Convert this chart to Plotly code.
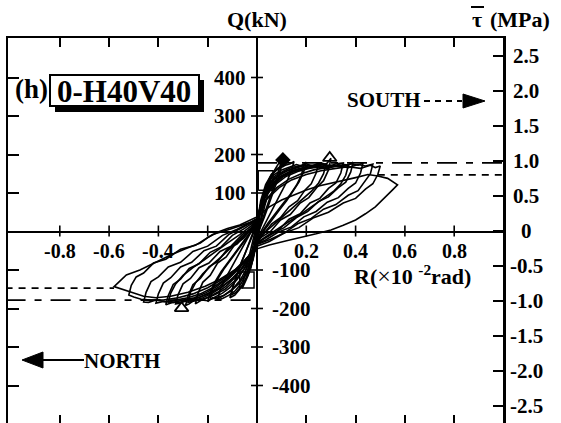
import plotly.graph_objects as go

# ---------------- data ----------------
r_ticks = [-0.8, -0.6, -0.4, -0.2, 0.2, 0.4, 0.6, 0.8]
r_label_vals = [-0.8, -0.6, -0.4, 0.2, 0.4, 0.6, 0.8]
r_label_text = ["-0.8", "-0.6", "-0.4", "0.2", "0.4", "0.6", "0.8"]
q_ticks = [-400, -300, -200, -100, 100, 200, 300, 400]
q_label_text = ["-400", "-300", "-200", "-100", "100", "200", "300", "400"]
tau_ticks = [-2.5, -2.0, -1.5, -1.0, -0.5, 0.0, 0.5, 1.0, 1.5, 2.0, 2.5]
tau_label_text = ["-2.5", "-2.0", "-1.5", "-1.0", "-0.5", "0", "0.5", "1.0", "1.5", "2.0", "2.5"]

c01_r = [0, 0.008, 0.015, 0.02, 0.016, 0.008, 0, -0.008, -0.015, -0.02, -0.016, -0.008, 0]
c01_q = [8, 45, 70, 80, 55, 20, -8, -42, -68, -80, -55, -20, 8]
c02_r = [0, 0.01, 0.02, 0.03, 0.04, 0.035, 0.025, 0.012, 0, -0.01, -0.02, -0.03, -0.04, -0.035, -0.025, -0.012, 0]
c02_q = [12, 48, 80, 102, 120, 95, 62, 22, -12, -48, -80, -100, -118, -92, -60, -20, 12]
c03_r = [0, 0.012, 0.025, 0.04, 0.052, 0.06, 0.052, 0.04, 0.025, 0.01, 0, -0.012, -0.025, -0.04, -0.052, -0.06,
         -0.052, -0.04, -0.025, -0.01, 0]
c03_q = [15, 60, 95, 122, 140, 150, 122, 88, 50, 10, -15, -58, -95, -120, -138, -148, -118, -84, -46, -6, 15]
c04_r = [0, 0.015, 0.03, 0.05, 0.07, 0.085, 0.1, 0.09, 0.075, 0.055, 0.035, 0.015, 0, -0.015, -0.03, -0.05, -0.07,
         -0.09, -0.11, -0.1, -0.085, -0.065, -0.04, -0.018, 0]
c04_q = [18, 65, 100, 132, 158, 174, 185, 160, 128, 92, 56, 18, -18, -62, -98, -130, -150, -165, -172, -148, -118,
         -82, -44, -8, 18]
c04b_r = [0, 0.015, 0.035, 0.06, 0.08, 0.1, 0.09, 0.07, 0.05, 0.03, 0.01, 0, -0.015, -0.035, -0.06, -0.085, -0.105,
          -0.095, -0.075, -0.05, -0.025, 0]
c04b_q = [25, 70, 112, 145, 162, 172, 146, 108, 72, 38, 5, -25, -70, -110, -140, -158, -165, -138, -100, -60, -20, 25]
c05_r = [0, 0.015, 0.035, 0.06, 0.09, 0.115, 0.135, 0.15, 0.14, 0.12, 0.095, 0.07, 0.045, 0.02, 0, -0.02, -0.04,
         -0.065, -0.09, -0.115, -0.14, -0.16, -0.15, -0.13, -0.105, -0.08, -0.05, -0.025, 0]
c05_q = [20, 80, 122, 150, 164, 172, 176, 182, 158, 128, 98, 68, 38, 5, -20, -70, -106, -136, -155, -166, -174, -178,
         -152, -124, -94, -64, -30, -2, 20]
c06_r = [0, 0.02, 0.04, 0.07, 0.1, 0.13, 0.16, 0.18, 0.2, 0.19, 0.17, 0.145, 0.12, 0.09, 0.06, 0.03, 0, -0.02,
         -0.045, -0.07, -0.1, -0.13, -0.16, -0.18, -0.2, -0.19, -0.17, -0.145, -0.115, -0.085, -0.055, -0.025, 0]
c06_q = [22, 82, 122, 148, 160, 168, 174, 170, 180, 156, 128, 104, 80, 55, 30, 2, -22, -64, -100, -128, -150, -164,
         -176, -172, -182, -158, -130, -104, -78, -52, -25, 0, 22]
c06b_r = [0, 0.02, 0.045, 0.075, 0.105, 0.135, 0.165, 0.19, 0.18, 0.16, 0.135, 0.105, 0.075, 0.045, 0.015, 0,
          -0.02, -0.045, -0.075, -0.105, -0.135, -0.165, -0.19, -0.18, -0.16, -0.135, -0.105, -0.075, -0.045,
          -0.015, 0]
c06b_q = [28, 84, 118, 140, 154, 162, 168, 172, 146, 120, 96, 72, 48, 22, -6, -28, -74, -110, -136, -154, -166,
          -172, -176, -150, -124, -98, -72, -46, -20, 6, 28]
c07_r = [0, 0.02, 0.045, 0.075, 0.11, 0.14, 0.17, 0.2, 0.225, 0.25, 0.24, 0.22, 0.195, 0.165, 0.13, 0.095, 0.06,
         0.03, 0, -0.025, -0.05, -0.08, -0.11, -0.14, -0.17, -0.2, -0.225, -0.25, -0.24, -0.22, -0.19, -0.16,
         -0.125, -0.09, -0.055, -0.025, 0]
c07_q = [24, 80, 120, 145, 158, 166, 170, 176, 170, 178, 152, 124, 108, 80, 64, 36, 20, -4, -24, -62, -96, -124,
         -146, -160, -170, -180, -178, -188, -162, -132, -114, -82, -66, -34, -18, 6, 24]
c08_r = [0, 0.02, 0.05, 0.085, 0.125, 0.16, 0.195, 0.23, 0.26, 0.28, 0.3, 0.29, 0.27, 0.245, 0.21, 0.175, 0.135,
         0.095, 0.055, 0.02, 0, -0.025, -0.055, -0.09, -0.125, -0.16, -0.195, -0.225, -0.255, -0.275, -0.29, -0.28,
         -0.26, -0.23, -0.195, -0.16, -0.12, -0.08, -0.04, 0]
c08_q = [26, 80, 120, 144, 158, 166, 172, 168, 178, 174, 190, 160, 132, 116, 88, 74, 44, 30, 0, -14, -26, -60, -92,
         -120, -142, -158, -170, -178, -178, -188, -192, -168, -138, -122, -92, -78, -46, -32, -2, 26]
c08b_r = [0, 0.025, 0.055, 0.09, 0.13, 0.17, 0.21, 0.245, 0.28, 0.27, 0.25, 0.22, 0.185, 0.145, 0.105, 0.065, 0.025,
          0, -0.025, -0.055, -0.09, -0.13, -0.17, -0.21, -0.245, -0.28, -0.27, -0.25, -0.22, -0.185, -0.145, -0.105,
          -0.065, -0.025, 0]
c08b_q = [30, 84, 118, 140, 154, 162, 166, 172, 176, 150, 126, 104, 84, 62, 40, 18, -6, -30, -66, -100, -128, -150,
          -164, -174, -180, -184, -158, -134, -110, -88, -66, -42, -18, 8, 30]
c09_r = [0, 0.025, 0.055, 0.095, 0.14, 0.18, 0.22, 0.26, 0.29, 0.32, 0.35, 0.34, 0.32, 0.29, 0.255, 0.215, 0.175,
         0.13, 0.085, 0.04, 0, -0.03, -0.06, -0.1, -0.14, -0.18, -0.22, -0.26, -0.29, -0.315, -0.33, -0.32, -0.3,
         -0.27, -0.235, -0.195, -0.15, -0.105, -0.06, -0.02, 0]
c09_q = [28, 82, 120, 144, 158, 166, 172, 174, 168, 176, 178, 152, 126, 112, 86, 74, 46, 32, 2, -14, -28, -62, -94,
         -122, -144, -160, -172, -180, -180, -186, -188, -164, -136, -122, -94, -82, -52, -38, -8, 10, 28]
c10_r = [0, 0.025, 0.06, 0.1, 0.15, 0.19, 0.23, 0.27, 0.31, 0.34, 0.37, 0.39, 0.38, 0.36, 0.33, 0.29, 0.25, 0.205,
         0.16, 0.11, 0.06, 0.02, 0, -0.03, -0.07, -0.11, -0.15, -0.19, -0.23, -0.27, -0.31, -0.34, -0.37, -0.36,
         -0.34, -0.31, -0.275, -0.235, -0.19, -0.145, -0.1, -0.055, -0.015, 0]
c10_q = [30, 82, 120, 142, 156, 164, 168, 174, 170, 176, 172, 180, 154, 128, 114, 90, 78, 52, 36, 10, -6, -22, -30,
         -62, -94, -120, -142, -158, -170, -178, -184, -184, -190, -166, -138, -124, -96, -84, -54, -40, -10, 6,
         22, 30]
c10b_r = [0, 0.03, 0.065, 0.105, 0.15, 0.195, 0.24, 0.285, 0.33, 0.37, 0.36, 0.34, 0.31, 0.27, 0.225, 0.18, 0.13,
          0.08, 0.03, 0, -0.03, -0.065, -0.105, -0.15, -0.195, -0.24, -0.285, -0.33, -0.36, -0.35, -0.33, -0.3,
          -0.26, -0.215, -0.17, -0.12, -0.07, -0.025, 0]
c10b_q = [32, 86, 120, 142, 156, 164, 168, 164, 172, 170, 146, 124, 104, 86, 66, 46, 26, 4, -16, -32, -66, -98,
          -126, -146, -162, -172, -178, -178, -184, -160, -136, -114, -94, -74, -52, -30, -8, 14, 32]
c11_r = [0, 0.03, 0.07, 0.115, 0.165, 0.21, 0.255, 0.3, 0.34, 0.38, 0.41, 0.43, 0.42, 0.4, 0.37, 0.33, 0.285, 0.24,
         0.19, 0.14, 0.085, 0.035, 0, -0.035, -0.075, -0.12, -0.165, -0.21, -0.255, -0.3, -0.34, -0.38, -0.41, -0.4,
         -0.38, -0.35, -0.31, -0.265, -0.215, -0.165, -0.115, -0.065, -0.02, 0]
c11_q = [32, 86, 120, 142, 156, 164, 168, 172, 168, 176, 172, 178, 152, 126, 112, 88, 76, 52, 38, 12, -2, -22, -32,
         -64, -96, -122, -144, -160, -172, -178, -184, -182, -186, -162, -134, -120, -92, -80, -50, -38, -8, 8,
         24, 32]
c12_r = [0, 0.035, 0.08, 0.13, 0.18, 0.23, 0.28, 0.33, 0.37, 0.41, 0.44, 0.47, 0.46, 0.44, 0.41, 0.37, 0.32, 0.27,
         0.22, 0.165, 0.11, 0.055, 0, -0.035, -0.08, -0.13, -0.18, -0.23, -0.28, -0.33, -0.37, -0.41, -0.44, -0.46,
         -0.45, -0.43, -0.4, -0.36, -0.31, -0.26, -0.2, -0.14, -0.08, -0.03, 0]
c12_q = [34, 82, 114, 136, 150, 160, 166, 170, 166, 174, 170, 175, 150, 132, 106, 94, 70, 58, 34, 20, -4, -20, -34,
         -66, -98, -124, -146, -162, -172, -178, -182, -178, -184, -183, -158, -130, -118, -92, -80, -52, -38, -10,
         6, 22, 34]
c13_r = [0, 0.04, 0.09, 0.14, 0.2, 0.26, 0.32, 0.37, 0.42, 0.46, 0.48, 0.5, 0.49, 0.47, 0.44, 0.4, 0.35, 0.29, 0.23,
         0.17, 0.11, 0.05, 0, -0.04, -0.09, -0.14, -0.2, -0.26, -0.32, -0.38, -0.43, -0.47, -0.5, -0.52, -0.51,
         -0.49, -0.46, -0.42, -0.37, -0.31, -0.25, -0.18, -0.11, -0.05, 0]
c13_q = [30, 84, 114, 134, 148, 158, 164, 168, 164, 172, 166, 170, 148, 124, 110, 86, 74, 50, 36, 10, -4, -26, -38,
         -68, -100, -124, -146, -162, -172, -178, -178, -176, -170, -165, -140, -118, -108, -82, -72, -46, -36, -8,
         6, 20, 30]
c14_r = [0, 0.05, 0.1, 0.15, 0.2, 0.25, 0.3, 0.35, 0.4, 0.45, 0.49, 0.53, 0.57, 0.55, 0.52, 0.48, 0.44, 0.4, 0.35,
         0.3, 0.24, 0.19, 0.12, 0.05, 0, -0.04, -0.09, -0.15, -0.21, -0.28, -0.35, -0.41, -0.46, -0.5, -0.54, -0.58,
         -0.55, -0.53, -0.475, -0.42, -0.35, -0.29, -0.23, -0.2, -0.16, -0.12, -0.07, 0]
c14_q = [38, 64, 82, 96, 108, 118, 126, 132, 140, 148, 144, 138, 121, 108, 90, 64, 46, 30, 16, 4, -6, -13, -24, -35,
         -45, -72, -100, -124, -142, -158, -168, -172, -168, -160, -152, -143, -125, -113, -100, -82, -61, -45, -30,
         -16, -2, 8, 17, 38]

# special points
diamond_r = [0.105]
diamond_q = [186]
triangle_r = [0.295, -0.306]
triangle_q = [191, -199]
# open square markers (R range, Q range)
box_pos_r = [0.005, 0.065]
box_pos_q = [107, 158]
box_neg_r = [-0.07, -0.012]
box_neg_q = [-147, -105]
# reference levels
dashdot_q = [178, -178]
dashdot_r0 = [0.0, -1.02]
dashdot_r1 = [1.02, 0.0]
dash_q = [147, -147]
dash_r0 = [0.49, -1.02]
dash_r1 = [1.02, -0.58]

# ---------------- geometry ----------------
W, H = 561, 423
L, R_EDGE, T, B = 8, 503, 38, 423
X_RANGE = [(L - 257) / 246.5, (R_EDGE - 257) / 246.5]
Y_RANGE = [-497.4, 502.6]
TAU_RANGE = [-2.736, 2.764]


def px(x):
    return (x - L) / (R_EDGE - L)


def py(y):
    return (B - y) / (B - T)


FONT = "Liberation Serif, Times New Roman, serif"

fig = go.Figure()

cycles = [(c01_r, c01_q), (c02_r, c02_q), (c03_r, c03_q), (c04_r, c04_q), (c04b_r, c04b_q), (c05_r, c05_q),
          (c06_r, c06_q), (c06b_r, c06b_q), (c07_r, c07_q), (c08_r, c08_q), (c08b_r, c08b_q), (c09_r, c09_q),
          (c10_r, c10_q), (c10b_r, c10b_q), (c11_r, c11_q), (c12_r, c12_q), (c13_r, c13_q), (c14_r, c14_q)]
for rr, qq in cycles:
    fig.add_trace(go.Scatter(x=rr, y=qq, mode="lines", line=dict(color="black", width=1.6),
                             hoverinfo="skip", showlegend=False))

# reference lines
for q, a, b in zip(dashdot_q, dashdot_r0, dashdot_r1):
    fig.add_trace(go.Scatter(x=[a, b], y=[q, q], mode="lines",
                             line=dict(color="black", width=1.7, dash="20px,9px,7px,9px"),
                             hoverinfo="skip", showlegend=False))
for q, a, b in zip(dash_q, dash_r0, dash_r1):
    fig.add_trace(go.Scatter(x=[a, b], y=[q, q], mode="lines",
                             line=dict(color="black", width=1.7, dash="7px,6px"),
                             hoverinfo="skip", showlegend=False))

# boxes
for br, bq in [(box_pos_r, box_pos_q), (box_neg_r, box_neg_q)]:
    fig.add_trace(go.Scatter(x=[br[0], br[1], br[1], br[0], br[0]], y=[bq[0], bq[0], bq[1], bq[1], bq[0]],
                             mode="lines", line=dict(color="black", width=1.5),
                             hoverinfo="skip", showlegend=False))

fig.add_trace(go.Scatter(x=diamond_r, y=diamond_q, mode="markers",
                         marker=dict(symbol="diamond", size=12, color="black"),
                         hoverinfo="skip", showlegend=False))
fig.add_trace(go.Scatter(x=triangle_r, y=triangle_q, mode="markers",
                         marker=dict(symbol="triangle-up-open", size=12, color="black", line=dict(width=1.8)),
                         hoverinfo="skip", showlegend=False))

# dummy trace for right (tau) axis
fig.add_trace(go.Scatter(x=[0], y=[0], xaxis="x2", yaxis="y2", mode="markers",
                         marker=dict(opacity=0), hoverinfo="skip", showlegend=False))

shapes = []
# ticks on the central axes
for q in q_ticks:
    shapes.append(dict(type="line", xref="x", yref="y", xsizemode="pixel", xanchor=0, x0=-6, x1=6,
                       y0=q, y1=q, line=dict(color="black", width=1.6)))
for r in r_ticks:
    shapes.append(dict(type="line", xref="x", yref="y", ysizemode="pixel", yanchor=0, y0=-5, y1=6,
                       x0=r, x1=r, line=dict(color="black", width=1.6)))

# label box with shadow
shapes.append(dict(type="rect", xref="paper", yref="paper", x0=px(55), x1=px(204), y0=py(112), y1=py(80),
                   fillcolor="black", line=dict(width=0)))
shapes.append(dict(type="rect", xref="paper", yref="paper", x0=px(50), x1=px(199), y0=py(106), y1=py(75),
                   fillcolor="white", line=dict(color="black", width=2)))

# overline of tau in the right axis title
shapes.append(dict(type="line", xref="paper", yref="paper", x0=px(471), x1=px(484), y0=py(7), y1=py(7),
                   line=dict(color="black", width=2)))

# SOUTH arrow
shapes.append(dict(type="line", xref="paper", yref="paper", x0=px(424), x1=px(462), y0=py(101), y1=py(101),
                   line=dict(color="black", width=2, dash="6px,5px")))
shapes.append(dict(type="path", xref="paper", yref="paper",
                   path=f"M {px(463)} {py(94)} L {px(485)} {py(101)} L {px(463)} {py(108)} Z",
                   fillcolor="black", line=dict(color="black", width=1)))
# NORTH arrow
shapes.append(dict(type="line", xref="paper", yref="paper", x0=px(42), x1=px(84), y0=py(360), y1=py(360),
                   line=dict(color="black", width=2)))
shapes.append(dict(type="path", xref="paper", yref="paper",
                   path=f"M {px(22)} {py(360)} L {px(43)} {py(352)} L {px(43)} {py(368)} Z",
                   fillcolor="black", line=dict(color="black", width=1)))

ann = []


def txt(s, x, y, size=21, xanchor="center", xref="paper", yref="paper", yanchor="middle"):
    ann.append(dict(text=f"<b>{s}</b>", x=x, y=y, xref=xref, yref=yref, xanchor=xanchor, yanchor=yanchor,
                    showarrow=False, font=dict(family=FONT, size=size, color="black")))


for v, s in zip(r_label_vals, r_label_text):
    txt(s, v, py(251), size=20, xref="x")
for v, s in zip(q_ticks, q_label_text):
    if v > 0:
        txt(s, px(248), v, xanchor="right", yref="y")
    else:
        txt(s, px(270), v, xanchor="left", yref="y")
for v, s in zip(tau_ticks, tau_label_text):
    txt(s, px(526), v, yref="y2")

txt("Q(kN)", px(257), py(19), size=22)
txt("τ", px(477), py(20), size=22)
txt("(MPa)", px(488), py(19), size=22, xanchor="left")
txt("R(<span style='font-size:24px;font-weight:normal'>×</span>10 <sup>-2</sup>rad)", px(352), py(275),
    size=22, xanchor="left")
txt("(h)", px(13), py(89), size=27, xanchor="left")
txt("0-H40V40", px(124), py(91), size=31)
txt("SOUTH", px(423), py(100), size=21, xanchor="right")
txt("NORTH", px(82), py(361), size=21, xanchor="left")

axis_common = dict(showgrid=False, fixedrange=True, tickcolor="black", tickwidth=1.6)
fig.update_layout(
    width=W, height=H,
    margin=dict(l=L, r=W - R_EDGE, t=T, b=H - B, autoexpand=False),
    paper_bgcolor="white", plot_bgcolor="white",
    showlegend=False,
    xaxis=dict(range=X_RANGE, zeroline=True, zerolinecolor="black", zerolinewidth=2, showline=False,
               ticks="inside", ticklen=8, tickvals=r_ticks, showticklabels=False, **axis_common),
    xaxis2=dict(range=X_RANGE, overlaying="x", side="top", zeroline=False, showline=True, linecolor="black",
                linewidth=2, ticks="inside", ticklen=9, tickvals=r_ticks, showticklabels=False, **axis_common),
    yaxis=dict(range=Y_RANGE, zeroline=True, zerolinecolor="black", zerolinewidth=2, showline=True,
               linecolor="black", linewidth=2, ticks="inside", ticklen=11, tickvals=q_ticks,
               showticklabels=False, **axis_common),
    yaxis2=dict(range=TAU_RANGE, overlaying="y", side="right", zeroline=False, showline=True, linecolor="black",
                linewidth=3, ticks="inside", ticklen=10, tickvals=tau_ticks, showticklabels=False, **axis_common),
    shapes=shapes,
    annotations=ann,
)

fig.write_html("out.html", config={"displayModeBar": False},
               post_script="document.body.style.margin='0';document.body.style.overflow='hidden';")
